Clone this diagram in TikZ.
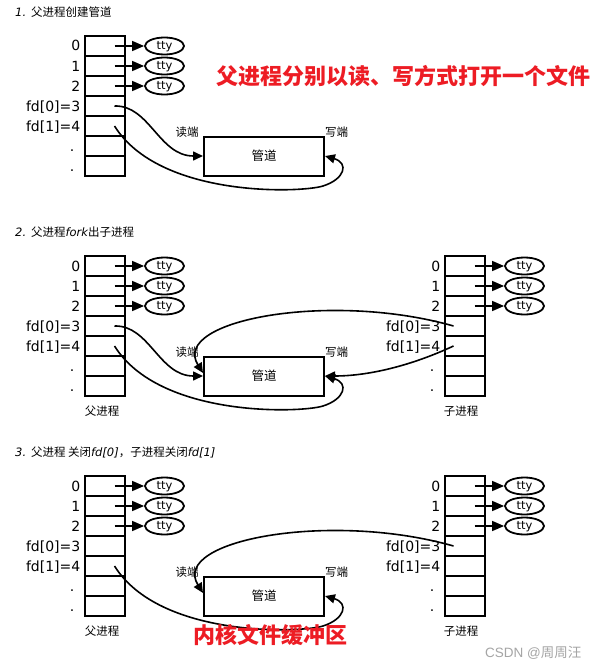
\documentclass[tikz,border=0pt]{standalone}
\usepackage{fontspec}
\setmainfont{DejaVu Sans}
\newfontfamily\cjk{Noto Sans CJK SC}
\newfontfamily\lsans{Liberation Sans}
\usetikzlibrary{arrows.meta,calc,shapes.geometric}
\definecolor{hired}{RGB}{237,28,36}
\definecolor{wmgray}{RGB}{165,165,165}
\tikzset{
  cell/.style={draw, line width=2pt, minimum width=40pt, minimum height=20pt, inner sep=0pt, outer sep=0pt},
  fdlbl/.style={font=\fontsize{14}{16}\selectfont, inner sep=0pt, anchor=base east},
  fddot/.style={font=\fontsize{14}{16}\selectfont, inner sep=0pt, anchor=base},
  tty/.style={draw, ellipse, line width=1.8pt, minimum width=39pt, minimum height=17pt, inner sep=0pt, text height=8.3pt, text depth=0.6pt, font=\fontsize{11.5}{13}\selectfont},
  ttyarr/.style={line width=1.5pt, -{Triangle[length=12pt,width=10pt]}},
  curve/.style={line width=1.6pt, -{Triangle[length=10pt,width=9pt]}},
  pipe/.style={draw, line width=2pt, minimum width=120pt, minimum height=39pt, inner sep=0pt, font=\cjk\fontsize{12.5}{14}\selectfont},
  small/.style={font=\cjk\fontsize{11.5}{13}\selectfont, inner sep=0pt},
  title/.style={font=\fontsize{11.5}{13}\selectfont, anchor=west, inner sep=0pt},
  redtxt/.style={font=\cjk\bfseries\fontsize{22}{24}\selectfont, text=hired, anchor=west, inner sep=0pt},
}
\newcommand\fdtable[3]{%
  \foreach \i in {0,...,6}{
    \node[cell] (#1c\i) at ({#2+20.5},{#3+10+20*\i}) {};
  }
  \foreach \i/\lab in {0/0,1/1,2/2,3/{fd[0]=3},4/{fd[1]=4}}{
    \node[fdlbl] (#1l\i) at ({#2-3.5},{#3+15+20*\i}) {\lab};
  }
  \foreach \i in {5,6}{
    \node[fddot] (#1l\i) at ({#2-12},{#3+15+20*\i}) {.};
  }
  \foreach \i in {0,1,2}{
    \node[tty] (#1t\i) at ({#2+80.5},{#3+10+20*\i}) {tty};
    \draw[ttyarr] ($(#1c\i.east)+(-10,0)$) -- (#1t\i);
  }
}
\begin{document}
\begin{tikzpicture}[x=1pt,y=-1pt]
\useasboundingbox (0,0) rectangle (600,669);
\fill[white] (0,0) rectangle (600,669);

% ---------- section 1
\node[title] (t1) at (15,12) {{\itshape 1.} {\cjk 父进程创建管道}};
\fdtable{a}{84}{36}
\node[pipe] (pipe1) at (264,156) {管道};
\node[small] (r1) at (187,132) {读端};
\node[small] (w1) at (336.5,132.5) {写端};
\draw[curve] ($(ac3.east)+(-10,0)$) .. controls +(35,-1) and +(-44,0) .. (pipe1.west);
\draw[curve] ($(ac4.east)+(-10,0)$) .. controls +(45,72) and +(-22,7) .. ($(pipe1.east)+(-2,30)$) .. controls +(22,-7) and +(24,7) .. (pipe1.east);
\node[redtxt] (red1) at (216,76) {父进程分别以读、写方式打开一个文件};

% ---------- section 2
\node[title] (t2) at (15,232) {{\itshape 2.} {\cjk 父进程}{\itshape fork}{\cjk 出子进程}};
\fdtable{b}{84}{256}
\fdtable{c}{444}{256}
\node[pipe] (pipe2) at (264,376) {管道};
\node[small] (r2) at (187,352) {读端};
\node[small] (w2) at (336.5,352.5) {写端};
\node[small] (pp2) at (102,411.5) {父进程};
\node[small] (cp2) at (461,411.5) {子进程};
\draw[curve] ($(bc3.east)+(-10,0)$) .. controls +(35,-1) and +(-44,0) .. (pipe2.west);
\draw[curve] ($(bc4.east)+(-10,0)$) .. controls +(45,72) and +(-22,7) .. ($(pipe2.east)+(-2,30)$) .. controls +(22,-7) and +(24,7) .. (pipe2.east);
\draw[curve] ($(cc3.west)+(9,0)$) .. controls +(-123,-35) and +(-33,-53) .. ($(pipe2.west)+(0,-3)$);
\draw[curve] ($(cc4.west)+(9,0)$) .. controls +(-43,20) and +(43,0) .. (pipe2.east);

% ---------- section 3
\node[title] (t3) at (15,452) {{\itshape 3.} {\cjk 父进程 关闭}{\itshape fd[0]}{\cjk ，子进程关闭}{\itshape fd[1]}};
\fdtable{d}{84}{476}
\fdtable{e}{444}{476}
\node[pipe] (pipe3) at (264,596) {管道};
\node[small] (r3) at (187,572) {读端};
\node[small] (w3) at (336.5,572.5) {写端};
\node[small] (pp3) at (102,631.5) {父进程};
\node[small] (cp3) at (461,631.5) {子进程};
\draw[curve] ($(dc4.east)+(-10,0)$) .. controls +(45,72) and +(-22,7) .. ($(pipe3.east)+(-2,30)$) .. controls +(22,-7) and +(24,7) .. (pipe3.east);
\draw[curve] ($(ec3.west)+(9,0)$) .. controls +(-123,-35) and +(-33,-53) .. ($(pipe3.west)+(0,-3)$);
\node[redtxt] (red2) at (193,635) {内核文件缓冲区};

\node[anchor=west, text=wmgray, inner sep=0pt, font=\lsans\fontsize{13.5}{15}\selectfont] (wm) at (485,653) {CSDN @{\cjk 周周汪}};
\end{tikzpicture}
\end{document}
